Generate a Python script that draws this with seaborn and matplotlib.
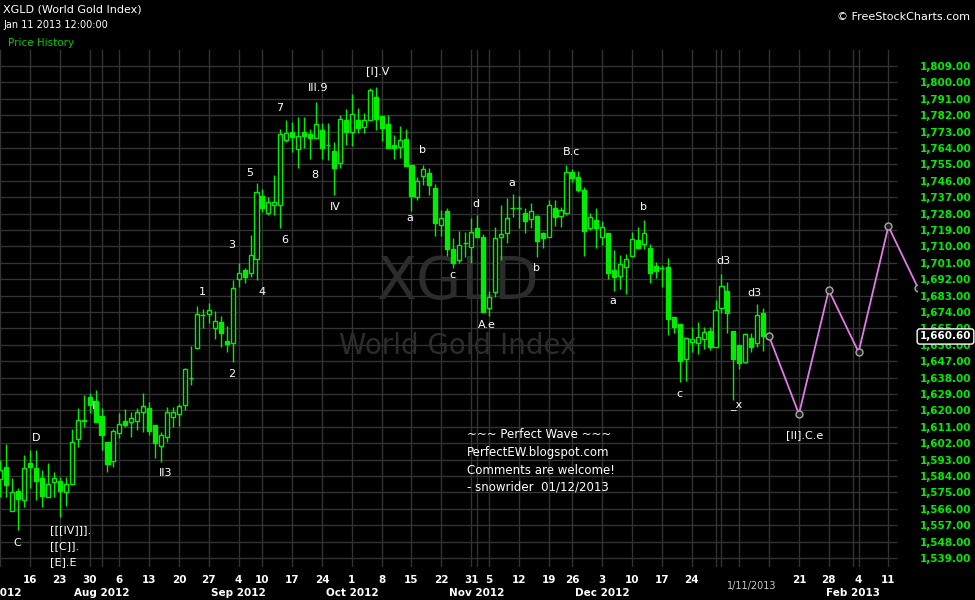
import matplotlib
matplotlib.use("Agg")
import matplotlib.pyplot as plt
import matplotlib.transforms as mtransforms
import seaborn as sns
import numpy as np
import pandas as pd

# trading days on the chart (market closed on the holidays)
holidays = pd.to_datetime(['2012-09-03', '2012-10-29', '2012-10-30',
                           '2012-11-22', '2012-12-25', '2013-01-01'])
days = pd.bdate_range('2012-07-09', '2013-02-22')
days = days[~days.isin(holidays)]

# daily candles, Jul 9 2012 .. Jan 11 2013
opens = [1582.2, 1588.8, 1565.0, 1575.8, 1570.9, 1591.2, 1588.2, 1582.7, 1572.3, 1580.5,
         1581.3, 1575.4, 1579.8, 1604.1, 1614.7, 1627.4, 1625.2, 1616.8, 1602.7, 1592.1,
         1607.4, 1614.0, 1613.8, 1614.4, 1619.3, 1621.2, 1612.0, 1600.7, 1605.2, 1616.2,
         1617.9, 1623.0, 1637.6, 1654.1, 1672.4, 1672.8, 1665.4, 1668.4, 1658.1, 1657.2,
         1692.3, 1697.1, 1695.3, 1702.9, 1737.7, 1728.2, 1733.0, 1732.7, 1768.4, 1772.6,
         1763.4, 1772.6, 1771.7, 1769.3, 1773.9, 1765.6, 1762.3, 1755.6, 1779.2, 1772.9,
         1779.2, 1775.3, 1779.3, 1791.8, 1781.5, 1777.2, 1765.6, 1764.4, 1768.7, 1754.7,
         1737.3, 1748.8, 1750.1, 1741.9, 1721.7, 1729.4, 1708.4, 1702.5, 1711.7, 1709.5,
         1719.9, 1715.0, 1676.0, 1684.8, 1715.0, 1717.2, 1730.9, 1730.9, 1728.1, 1724.8,
         1726.7, 1717.2, 1715.3, 1730.9, 1726.7, 1728.1, 1750.8, 1748.3, 1740.9, 1719.9,
         1724.5, 1715.0, 1717.2, 1697.0, 1693.8, 1698.9, 1704.7, 1713.5, 1711.1, 1708.9,
         1699.2, 1698.0, 1698.9, 1671.4, 1667.4, 1648.0, 1657.4, 1656.8, 1659.0, 1663.6,
         1655.0, 1676.0, 1685.5, 1663.6, 1655.9, 1646.8, 1659.6, 1657.2, 1673.3]
highs = [1592.8, 1601.6, 1582.7, 1577.3, 1595.4, 1598.3, 1598.3, 1587.3, 1591.0, 1586.0,
         1583.6, 1583.3, 1609.6, 1621.2, 1628.5, 1629.4, 1631.2, 1621.2, 1602.7, 1609.8,
         1618.4, 1620.6, 1619.3, 1621.2, 1629.4, 1624.4, 1612.0, 1608.3, 1622.1, 1622.1,
         1623.5, 1643.1, 1655.4, 1677.3, 1675.5, 1678.8, 1674.6, 1671.8, 1666.4, 1691.6,
         1700.7, 1698.0, 1716.3, 1744.8, 1741.5, 1737.0, 1749.2, 1774.3, 1779.4, 1778.1,
         1781.2, 1780.8, 1774.2, 1789.4, 1777.5, 1777.5, 1767.5, 1782.1, 1785.2, 1793.6,
         1785.8, 1783.4, 1796.7, 1797.3, 1781.5, 1782.1, 1771.1, 1776.1, 1774.2, 1754.7,
         1748.3, 1754.7, 1752.8, 1744.2, 1730.0, 1730.9, 1714.4, 1718.4, 1718.1, 1725.4,
         1727.2, 1716.8, 1685.5, 1720.5, 1732.7, 1736.7, 1738.6, 1737.6, 1730.9, 1734.0,
         1727.2, 1718.1, 1735.4, 1735.4, 1731.8, 1754.7, 1752.3, 1751.5, 1742.4, 1728.1,
         1730.9, 1724.1, 1717.2, 1708.0, 1705.3, 1705.8, 1718.1, 1720.8, 1724.5, 1711.1,
         1701.6, 1699.8, 1703.8, 1671.4, 1667.4, 1660.5, 1666.0, 1668.7, 1666.0, 1666.0,
         1680.6, 1694.9, 1690.6, 1663.6, 1655.9, 1662.7, 1662.3, 1678.4, 1676.0]
lows = [1572.7, 1572.7, 1565.0, 1554.4, 1567.2, 1577.3, 1570.9, 1567.2, 1572.3, 1572.7,
        1561.7, 1567.6, 1579.8, 1600.1, 1611.1, 1618.4, 1613.8, 1598.3, 1586.4, 1588.8,
        1604.7, 1611.1, 1605.6, 1609.3, 1608.3, 1606.5, 1593.7, 1591.9, 1602.9, 1611.1,
        1611.5, 1620.2, 1634.0, 1654.1, 1665.1, 1668.2, 1659.0, 1654.7, 1652.3, 1646.8,
        1687.6, 1689.8, 1693.4, 1691.6, 1729.1, 1727.2, 1727.2, 1719.9, 1767.5, 1762.0,
        1752.8, 1763.8, 1757.8, 1769.3, 1757.8, 1757.4, 1738.2, 1752.8, 1765.6, 1765.3,
        1772.0, 1772.4, 1779.3, 1773.9, 1767.8, 1763.8, 1757.9, 1758.3, 1754.1, 1729.6,
        1735.5, 1743.7, 1738.2, 1715.7, 1715.7, 1704.7, 1697.9, 1701.1, 1704.4, 1701.1,
        1715.0, 1674.2, 1672.0, 1682.4, 1702.5, 1712.0, 1726.3, 1719.9, 1717.5, 1720.3,
        1704.4, 1709.3, 1715.3, 1721.2, 1720.8, 1727.2, 1745.1, 1740.0, 1704.7, 1719.0,
        1709.3, 1710.8, 1692.1, 1685.7, 1686.6, 1683.9, 1704.4, 1708.4, 1708.4, 1689.7,
        1692.8, 1687.5, 1661.4, 1662.7, 1635.8, 1636.3, 1652.2, 1651.0, 1653.5, 1653.2,
        1655.0, 1673.3, 1662.7, 1625.7, 1642.5, 1645.8, 1652.2, 1655.0, 1652.8]
closes = [1587.3, 1579.1, 1575.1, 1571.2, 1588.2, 1589.1, 1581.5, 1573.2, 1579.8, 1582.7,
          1576.0, 1579.8, 1602.9, 1614.6, 1614.0, 1623.2, 1613.8, 1606.5, 1590.4, 1608.7,
          1612.7, 1612.0, 1615.7, 1619.3, 1622.2, 1608.9, 1601.9, 1606.5, 1618.9, 1618.9,
          1622.2, 1642.6, 1637.6, 1672.9, 1672.4, 1675.0, 1668.9, 1662.3, 1656.3, 1687.0,
          1695.3, 1693.4, 1705.3, 1739.7, 1730.9, 1734.6, 1734.5, 1771.5, 1772.0, 1769.8,
          1770.6, 1770.8, 1769.3, 1777.0, 1763.8, 1765.6, 1752.8, 1779.7, 1772.9, 1782.5,
          1774.8, 1779.2, 1795.8, 1779.7, 1774.8, 1764.2, 1764.2, 1768.2, 1754.1, 1737.8,
          1745.9, 1752.5, 1743.7, 1723.0, 1725.4, 1708.6, 1700.7, 1710.8, 1711.7, 1718.1,
          1715.0, 1674.2, 1682.4, 1714.4, 1716.8, 1725.8, 1730.9, 1730.9, 1724.1, 1729.4,
          1713.1, 1714.8, 1732.7, 1726.3, 1730.0, 1750.8, 1747.7, 1740.9, 1718.6, 1725.9,
          1720.3, 1720.8, 1695.2, 1693.0, 1700.3, 1703.1, 1713.9, 1708.9, 1717.2, 1695.2,
          1696.7, 1698.0, 1670.0, 1665.9, 1647.3, 1659.6, 1659.0, 1660.1, 1662.9, 1655.0,
          1675.1, 1688.3, 1673.6, 1648.2, 1645.8, 1661.9, 1655.0, 1672.3, 1660.6]

# projected path
proj_dates = pd.to_datetime(['2013-01-14', '2013-01-21', '2013-01-28',
                             '2013-02-04', '2013-02-11', '2013-02-18'])
proj_values = [1660.6, 1618.0, 1686.0, 1652.0, 1721.0, 1687.0]

# wave count labels: text, position (trading day number), price
wave_text = ['C', 'D', 'I', 'II3', '1', '2', '3', '4', '5', '6', '7', '8', 'III.9', 'IV',
             '[I].V', 'a', 'b', 'c', 'd', 'A.e', 'a', 'b', 'B.c', 'a', 'b', 'c', 'd3', 'd3',
             '_x', '[II].C.e']
wave_pos = [2.8, 6.0, 15.6, 27.7, 33.9, 38.9, 38.9, 43.9, 41.9, 47.8, 46.8, 52.8, 53.3, 56.2,
            63.4, 68.8, 70.9, 75.8, 79.8, 81.7, 85.9, 89.9, 95.8, 102.8, 107.9, 113.9, 121.4,
            126.5, 123.5, 134.9]
wave_price = [1547.2, 1604.8, 1622.4, 1585.6, 1685.0, 1640.0, 1710.8, 1685.0, 1750.3, 1713.5,
              1786.0, 1749.2, 1796.9, 1731.6, 1806.3, 1725.6, 1762.9, 1694.3, 1733.3, 1666.9,
              1744.8, 1698.1, 1761.8, 1680.0, 1731.6, 1629.0, 1702.0, 1684.4, 1623.0, 1606.5]
stack_text = ['[[[IV]]].', '[[C]].', '[E].E']
stack_price = [1554.4, 1545.6, 1536.8]

note_lines = ['~~~ Perfect Wave ~~~', 'PerfectEW.blogspot.com',
              'Comments are welcome!', '- snowrider  01/12/2013']
note_price = [1606.9, 1596.8, 1587.3, 1578.1]

price_ticks = np.arange(1539, 1810, 9)

green = '#00ee00'
grid_c = '#333333'

sns.set_theme(style='dark', rc={'axes.facecolor': 'black', 'figure.facecolor': 'black'})
plt.rcParams['font.family'] = ['DejaVu Sans']

fig = plt.figure(figsize=(9.75, 6), dpi=100)
ax = fig.add_axes([0, 33 / 600, 917 / 975, 517 / 600])
ax.set_facecolor('black')
for s in ax.spines.values():
    s.set_visible(False)
ax.set_xlim(-0.03, 153.8)
ax.set_ylim(1534.1, 1817.8)

# week / month grid
dser = pd.Series(days)
week_first = dser.groupby(dser.dt.to_period('W')).first()
month_first = dser.groupby(dser.dt.to_period('M')).first()
week_pos = days.get_indexer(week_first)
month_pos = days.get_indexer(month_first)
for p in sorted(set(week_pos) | set(month_pos)):
    ax.axvline(p, color=grid_c, lw=1, zorder=0.5)
ax.hlines(price_ticks, -0.03, 150.5, color=grid_c, lw=1, zorder=0.5)
ax.grid(False)

# watermark
ax.text(458 / 975, 1 - 283 / 600, 'XGLD', transform=fig.transFigure, fontsize=42,
        color='#2c2c2c', ha='center', va='center', zorder=1)
ax.text(458 / 975, 1 - 346 / 600, 'World Gold Index', transform=fig.transFigure, fontsize=20,
        color='#2c2c2c', ha='center', va='center', zorder=1)

# candles
o = np.array(opens)
h = np.array(highs)
l = np.array(lows)
c = np.array(closes)
x = np.arange(len(o))
up = c > o
dn = c < o
flat = c == o
ax.vlines(x, l, h, color=green, lw=1, zorder=3)
ax.bar(x[up], (c - o)[up], bottom=o[up], width=0.68, facecolor='black',
       edgecolor=green, lw=1, zorder=4)
ax.bar(x[dn], (o - c)[dn], bottom=c[dn], width=0.68, facecolor=green,
       edgecolor=green, lw=1, zorder=4)
ax.hlines(o[flat], x[flat] - 0.4, x[flat] + 0.4, color=green, lw=1, zorder=4)

# projection
proj_pos = days.get_indexer(proj_dates)
sns.lineplot(x=proj_pos, y=proj_values, ax=ax, color='#e47ae4', lw=1.3, marker='o',
             markersize=5, markerfacecolor='#202020', markeredgecolor='#a8a8a8',
             markeredgewidth=1, zorder=5)

# wave labels
for t, p, v in zip(wave_text, wave_pos, wave_price):
    ax.text(p, v, t, color='white', fontsize=8, ha='center', va='center', zorder=6)
for t, v in zip(stack_text, stack_price):
    ax.text(8.36, v, t, color='white', fontsize=8, ha='left', va='center', zorder=6)
for t, v in zip(note_lines, note_price):
    ax.text(78.3, v, t, color='white', fontsize=8.5, ha='left', va='center', zorder=6)

# right price axis
ax.yaxis.tick_right()
ax.set_yticks(price_ticks)
ax.set_yticklabels([f'{v:,.2f}' for v in price_ticks])
ax.tick_params(axis='y', length=0, pad=2, labelcolor=green, labelsize=7.5)
for lb in ax.get_yticklabels():
    lb.set_fontweight('bold')
ytr = mtransforms.blended_transform_factory(ax.transAxes, ax.transData)
ax.text(1.003, closes[-1], f'{closes[-1]:,.2f}', transform=ytr, color='white', fontsize=7.5,
        fontweight='bold', ha='left', va='center', clip_on=False, zorder=7,
        bbox=dict(boxstyle='round,pad=0.25', fc='black', ec='white', lw=1))

# date axis
hidden = pd.to_datetime(['2012-07-09', '2012-12-31', '2013-01-07', '2013-01-14'])
lab_days = [d for d in week_first if d not in hidden and days.get_loc(d) < 153]
ax.set_xticks(days.get_indexer(lab_days))
ax.set_xticklabels([str(d.day) for d in lab_days])
ax.tick_params(axis='x', length=0, pad=6, labelcolor='white', labelsize=7.5)
for lb in ax.get_xticklabels():
    lb.set_fontweight('bold')

xtr = ax.get_xaxis_transform()
month_lab = [(-0.35, 'Jul 2012')]
for d in month_first:
    if d.month == 1 or d == days[0]:
        continue
    month_lab.append((days.get_loc(d), d.strftime('%b %Y')))
for p, t in month_lab:
    ax.text(p, -0.051, t, transform=xtr, color='white', fontsize=7.5, fontweight='bold',
            ha='center', va='center', clip_on=False)
ax.text(126.1, -0.037, '1/11/2013', transform=xtr, color='#c8c8c8', fontsize=7,
        ha='center', va='center', clip_on=False)

# header
fig.text(3 / 975, 1 - 9 / 600, 'XGLD (World Gold Index)', color='white', fontsize=8,
         ha='left', va='center')
fig.text(3 / 975, 1 - 25 / 600, 'Jan 11 2013 12:00:00', color='white', fontsize=7,
         ha='left', va='center')
fig.text(8 / 975, 1 - 43 / 600, 'Price History', color='#00cc00', fontsize=7.5,
         ha='left', va='center')
fig.text(970 / 975, 1 - 17 / 600, '© FreeStockCharts.com', color='white', fontsize=8,
         ha='right', va='center')

fig.savefig('out.png', dpi=100, facecolor='black')
